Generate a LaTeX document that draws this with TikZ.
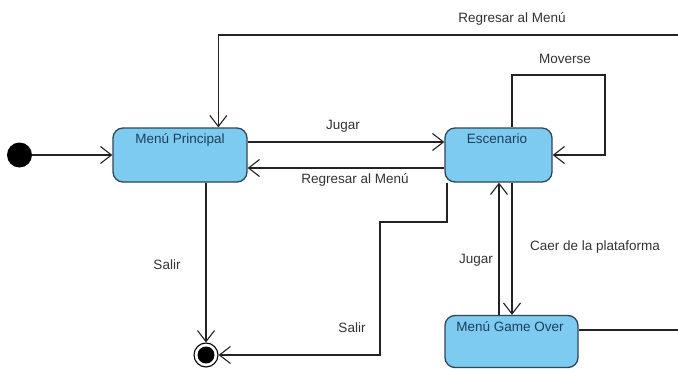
\documentclass[tikz,border=0pt]{standalone}
\usepackage{fontspec}
\setmainfont{Liberation Sans}
\usetikzlibrary{arrows.meta}
\definecolor{stfill}{HTML}{7DCBF0}
\definecolor{stdraw}{HTML}{2F4656}
\definecolor{sttext}{HTML}{1F3D5C}
\definecolor{lbl}{HTML}{333333}
\definecolor{ln}{HTML}{222222}
\tikzset{
  state/.style={draw=stdraw, fill=stfill, line width=1.3pt, rounded corners=10pt, inner sep=0pt},
  sttxt/.style={text=sttext, font=\fontsize{13.5}{16}\selectfont, inner sep=0pt},
  lab/.style={text=lbl, font=\fontsize{13.5}{16}\selectfont, inner sep=0pt},
  arr/.style={draw=ln, line width=1.1pt, -{Straight Barb[length=11pt,width=17pt,line width=1.1pt]}},
  plain/.style={draw=ln, line width=1.1pt}
}
\begin{document}
\begin{tikzpicture}[x=1pt,y=-1pt]
\clip (0,0) rectangle (678,369);
\fill[white] (0,0) rectangle (678,369);
% states
\node[circle, fill=black, minimum size=25pt, inner sep=0pt] (init) at (19.5,155) {};
\node[state, minimum width=134pt, minimum height=54pt] (mp) at (180,155) {};
\node[sttxt] (mpt) at (180,140) {Menú Principal};
\node[state, minimum width=107pt, minimum height=54pt] (esc) at (498.5,155) {};
\node[sttxt] (esct) at (497,139) {Escenario};
\node[state, minimum width=133pt, minimum height=52pt] (go) at (511.5,341.5) {};
\node[sttxt] (got) at (510,327) {Menú Game Over};
\node[circle, draw=black, fill=white, line width=1.1pt, minimum size=24pt, inner sep=0pt] (fin) at (206,355) {};
\fill[black] (fin.center) circle (8.5pt);
% coordinates
\coordinate (gy) at (0,330);
\coordinate (far) at (700,35);
\coordinate (mv) at (605,75);
\coordinate (s1) at (380,222);
% connectors
\draw[arr] (init) -- (mp.west);
\draw[arr] (go.east |- gy) -| (far) -- ([xshift=106pt]mp.north west |- far) -- ([xshift=106pt]mp.north west);
\draw[arr] ([yshift=13pt]mp.east) -- ([yshift=13pt]esc.west);
\draw[arr] ([yshift=-13pt]esc.west) -- ([yshift=-13pt]mp.east);
\draw[arr] ([xshift=13.5pt]esc.north) |- (mv) |- (esc.east);
\draw[arr] ([xshift=-51.5pt]esc.south) |- (s1) |- (fin.east);
\draw[arr] (fin |- mp.south) -- (fin.north);
\draw[arr] ([xshift=-12.5pt]go.north) -- ([xshift=0.5pt]esc.south);
\draw[arr] ([xshift=13.5pt]esc.south) -- ([xshift=0.5pt]go.north);
% labels
\node[lab] (l1) at (512,19) {Regresar al Menú};
\node[lab] (l2) at (343,126) {Jugar};
\node[lab] (l3) at (355,180) {Regresar al Menú};
\node[lab] (l4) at (565,59) {Moverse};
\node[lab] (l5) at (167,265) {Salir};
\node[lab] (l6) at (352,328) {Salir};
\node[lab] (l7) at (476,260) {Jugar};
\node[lab] (l8) at (595,247) {Caer de la plataforma};
\end{tikzpicture}
\end{document}
